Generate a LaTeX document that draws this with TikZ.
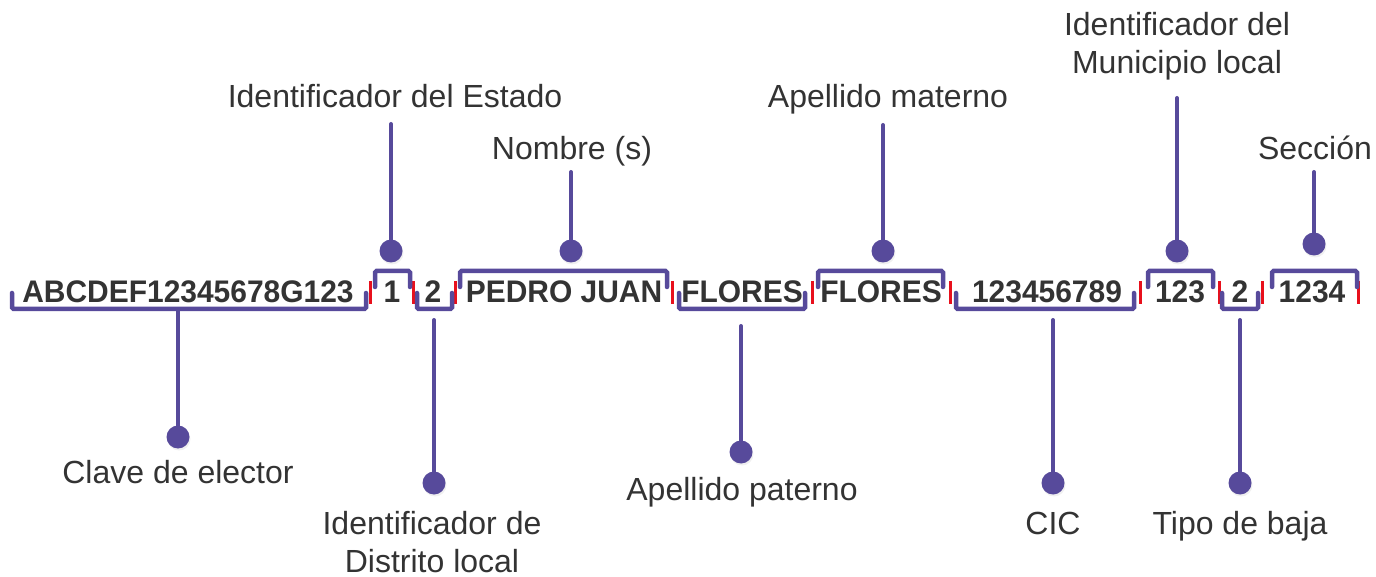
\documentclass[tikz,border=0pt]{standalone}
\usepackage{fontspec}
\setmainfont{Liberation Sans}
\newfontfamily\segfont{Liberation Sans}[FakeStretch=0.96]
\usetikzlibrary{shadows}
\definecolor{pur}{HTML}{574A9B}
\definecolor{redbar}{HTML}{E8101C}
\definecolor{txt}{HTML}{333333}
\begin{document}
\begin{tikzpicture}[x=1pt,y=-1pt,
  lbl/.style={inner sep=0pt, text=txt, font=\fontsize{32}{38.5}\selectfont, align=center},
  seg/.style={inner sep=0pt, text=txt, font=\segfont\fontsize{31.2}{36}\selectfont\bfseries, anchor=base},
  dot/.style={circle, fill=pur, minimum size=23pt, inner sep=0pt, drop shadow={opacity=0.12, shadow xshift=1pt, shadow yshift=-2pt}},
  stem/.style={draw=pur, line width=4pt, line cap=round},
  brk/.style={draw=pur, line width=4.5pt, line cap=round, rounded corners=1.5pt},
  sep/.style={draw=redbar, line width=3pt}]
\useasboundingbox (0,0) rectangle (1376,577);

% segments of the code
\node[seg] (s1) at (188,303) {ABCDEF12345678G123};
\node[seg] (s2) at (392,303) {1};
\node[seg] (s3) at (433,303) {2};
\node[seg] (s4) at (564,303) {PEDRO JUAN};
\node[seg] (s5) at (742,303) {FLORES};
\node[seg] (s6) at (881,303) {FLORES};
\node[seg] (s7) at (1047,303) {123456789};
\node[seg] (s8) at (1180,303) {123};
\node[seg] (s9) at (1240,303) {2};
\node[seg] (s10) at (1312,303) {1234};

% red separators
\foreach \x in {370,413,455,672,812,950,1140,1219,1262,1358}
  \draw[sep] (\x,281) -- (\x,304);

% brackets (bottom)
\foreach \a/\b in {12/366,417/452,679/805,956/1134,1222/1258}
  \draw[brk] (\a,293) -- (\a,309) -- (\b,309) -- (\b,293);
% brackets (top)
\foreach \a/\b in {375/410,460/667,818/943,1148/1213,1272/1357}
  \draw[brk] (\a,287) -- (\a,271) -- (\b,271) -- (\b,287);

% dots
\node[dot] (d1) at (178,437) {};
\node[dot] (d2) at (391,251) {};
\node[dot] (d3) at (434,483) {};
\node[dot] (d4) at (571,251) {};
\node[dot] (d5) at (741,452) {};
\node[dot] (d6) at (883,251) {};
\node[dot] (d7) at (1053,483) {};
\node[dot] (d8) at (1177,251) {};
\node[dot] (d9) at (1240,483) {};
\node[dot] (d10) at (1314,244) {};

% stem ends
\coordinate (e1) at (178,310);
\coordinate (e2) at (391,124);
\coordinate (e3) at (434,320);
\coordinate (e4) at (571,172);
\coordinate (e5) at (741,326);
\coordinate (e6) at (883,125);
\coordinate (e7) at (1053,320);
\coordinate (e8) at (1177,98);
\coordinate (e9) at (1240,320);
\coordinate (e10) at (1314,172);
\foreach \i in {1,...,10}
  \draw[stem] (d\i) -- (e\i);

% labels
\node[lbl, anchor=base] (l1) at (178,483) {Clave de elector};
\node[lbl, anchor=base] (l2) at (395,108) {Identificador del Estado};
\node[lbl, anchor=north] (l3) at (432,511) {Identificador de\\Distrito local};
\node[lbl, anchor=base] (l4) at (572,160) {Nombre (s)};
\node[lbl, anchor=base] (l5) at (742,500) {Apellido paterno};
\node[lbl, anchor=base] (l6) at (888,108) {Apellido materno};
\node[lbl, anchor=base] (l7) at (1053,534) {CIC};
\node[lbl, anchor=north] (l8) at (1177,12) {Identificador del\\Municipio local};
\node[lbl, anchor=base] (l9) at (1240,534) {Tipo de baja};
\node[lbl, anchor=base] (l10) at (1315,160) {Sección};
\end{tikzpicture}
\end{document}
